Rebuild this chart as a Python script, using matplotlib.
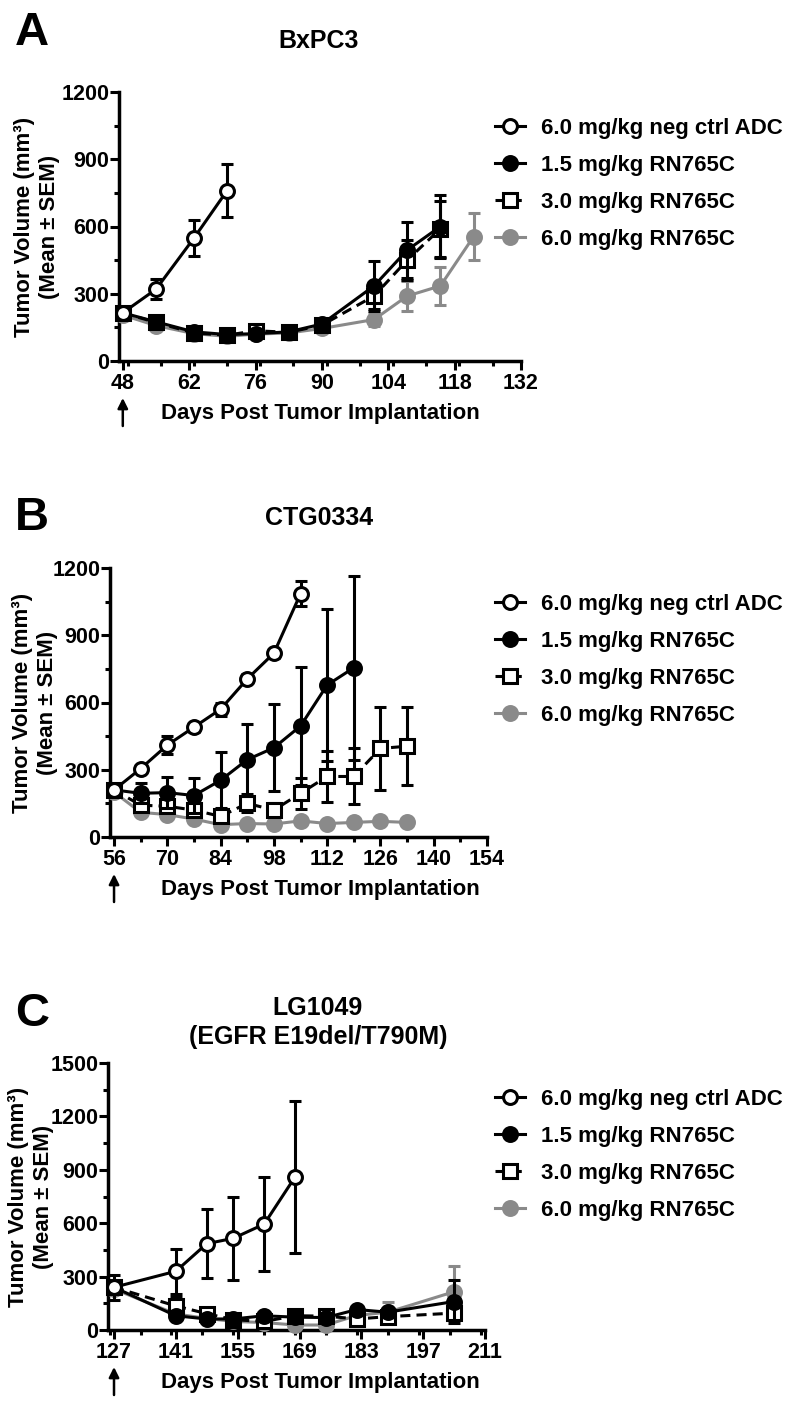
import numpy as np
import matplotlib
matplotlib.use("Agg")
import matplotlib.pyplot as plt
from matplotlib.ticker import MultipleLocator

plt.rcParams['font.family'] = ['Liberation Sans', 'DejaVu Sans']
plt.rcParams['font.weight'] = 'bold'
plt.rcParams['axes.labelweight'] = 'bold'

W, H = 795, 1407

labels = ["6.0 mg/kg neg ctrl ADC", "1.5 mg/kg RN765C",
          "3.0 mg/kg RN765C", "6.0 mg/kg RN765C"]

# ---- Panel A: BxPC3 ----
daysA_ctrl = [48, 55, 63, 70]
ctrlA = [215, 320, 548, 760]
ctrlA_sem = [20, 45, 80, 118]
daysA = [48, 55, 63, 70, 76, 83, 90, 101, 108, 115]
lowA = [215, 175, 130, 118, 122, 130, 165, 335, 495, 600]
lowA_sem = [15, 15, 10, 10, 10, 10, 15, 110, 125, 140]
midA = [215, 172, 125, 115, 135, 128, 160, 290, 450, 590]
midA_sem = [15, 15, 10, 10, 10, 12, 15, 60, 90, 125]
daysA_hi = [48, 55, 63, 70, 76, 83, 90, 101, 108, 115, 122]
hiA = [205, 158, 122, 110, 120, 125, 145, 185, 290, 335, 555]
hiA_sem = [15, 15, 10, 10, 10, 10, 10, 28, 65, 85, 105]

# ---- Panel B: CTG0334 ----
daysB = [56, 63, 70, 77, 84, 91, 98, 105, 112, 119, 126, 133]
ctrlB = [210, 305, 410, 490, 570, 705, 820, 1085]
ctrlB_sem = [15, 15, 40, 20, 30, 20, 20, 55]
lowB = [210, 195, 198, 185, 253, 345, 398, 495, 678, 755]
lowB_sem = [15, 45, 70, 80, 125, 160, 195, 265, 340, 410]
midB = [210, 142, 137, 120, 92, 150, 120, 195, 270, 270, 395, 405]
midB_sem = [15, 20, 15, 15, 10, 40, 30, 70, 115, 125, 185, 175]
hiB = [200, 110, 100, 80, 55, 60, 58, 72, 60, 65, 70, 65]
hiB_sem = [10, 10, 10, 8, 5, 5, 5, 8, 5, 5, 5, 5]

# ---- Panel C: LG1049 ----
daysC_ctrl = [127, 141, 148, 154, 161, 168]
ctrlC = [240, 330, 485, 515, 595, 860]
ctrlC_sem = [30, 125, 195, 235, 265, 425]
daysC = [127, 141, 148, 154, 161, 168, 175, 182, 189, 204]
lowC = [240, 80, 62, 62, 80, 72, 70, 115, 100, 160]
lowC_sem = [30, 15, 8, 8, 8, 8, 8, 10, 15, 120]
midC = [240, 135, 92, 58, 48, 80, 78, 62, 75, 95]
midC_sem = [70, 50, 15, 8, 8, 8, 8, 10, 20, 40]
hiC = [230, 90, 65, 48, 42, 28, 28, 82, 100, 215]
hiC_sem = [25, 15, 8, 8, 8, 8, 8, 10, 55, 145]

GRAY = '#8a8a8a'
LW = 2.2
FS = 16


def fx(px):
    return px / W


def fy(py):
    return 1 - py / H


def make_axes(fig, left, right, top, bottom):
    return fig.add_axes([fx(left), fy(bottom), (right - left) / W, (bottom - top) / H])


def series(ax, x, y, e, color, marker, mfc, ls, z):
    c = ax.errorbar(x, y, yerr=e, color=color, ecolor=color, marker=marker, ms=10,
                    mfc=mfc, mec=color, mew=LW, lw=LW, ls=ls, elinewidth=LW,
                    capsize=4.5, capthick=LW, zorder=z, clip_on=False)
    for art in c.lines[1] + c.lines[2]:
        art.set_clip_on(False)
    return c[0]


def panel(ax, data, xlim, xmajor, ymax, first_day, top_px, bottom_px, ylab_x):
    (dc, c, ce), (d, lo, loe), (dm, mi, mie), (dh, hi, hie) = data
    h4 = series(ax, dh, hi, hie, GRAY, 'o', GRAY, '-', 3)
    h3 = series(ax, dm, mi, mie, 'black', 's', 'white', (0, (3.3, 2)), 4)
    h2 = series(ax, d, lo, loe, 'black', 'o', 'black', '-', 5)
    h1 = series(ax, dc, c, ce, 'black', 'o', 'white', '-', 6)
    ax.set_xlim(*xlim)
    ax.set_ylim(0, ymax)
    ax.set_xticks(xmajor)
    ax.xaxis.set_minor_locator(MultipleLocator(7))
    ax.yaxis.set_major_locator(MultipleLocator(300))
    ax.yaxis.set_minor_locator(MultipleLocator(150))
    for s in ['top', 'right']:
        ax.spines[s].set_visible(False)
    for s in ['left', 'bottom']:
        ax.spines[s].set_linewidth(2.5)
    ax.tick_params(axis='both', which='major', length=6.5, width=2.2, labelsize=15.5)
    ax.tick_params(axis='both', which='minor', length=3.6, width=2.2)
    ax.tick_params(axis='x', which='major', pad=2)
    ax.tick_params(axis='y', which='major', pad=0.5)
    hgt = bottom_px - top_px
    ax.annotate('', xy=(first_day, -37 / hgt), xytext=(first_day, -65 / hgt),
                xycoords=('data', 'axes fraction'),
                arrowprops=dict(arrowstyle='-|>', color='black', lw=1.8,
                                mutation_scale=15, shrinkA=0, shrinkB=0))
    fig.text(fx(320), fy(bottom_px + 58), 'Days Post Tumor Implantation',
             ha='center', va='baseline', fontsize=FS)
    fig.text(fx(ylab_x), fy((top_px + bottom_px) / 2), 'Tumor Volume (mm³)\n(Mean ± SEM)',
             rotation=90, ha='center', va='center', multialignment='center',
             fontsize=FS, linespacing=1.3)
    ax.legend([h1, h2, h3, h4], labels, loc='upper left',
              bbox_to_anchor=(fx(495), fy(top_px + 26)), bbox_transform=fig.transFigure,
              frameon=False, fontsize=FS, borderpad=0, borderaxespad=0,
              handlelength=1.35, handletextpad=0.7, labelspacing=0.72, numpoints=1)


fig = plt.figure(figsize=(W / 100, H / 100), dpi=100)

axA = make_axes(fig, 119, 521, 92, 361)
panel(axA, [(daysA_ctrl, ctrlA, ctrlA_sem), (daysA, lowA, lowA_sem),
            (daysA, midA, midA_sem), (daysA_hi, hiA, hiA_sem)],
      (47.2, 132), np.arange(48, 133, 14), 1200, 48, 92, 361, 37)

axB = make_axes(fig, 110, 487, 568, 837)
panel(axB, [(daysB[:8], ctrlB, ctrlB_sem), (daysB[:10], lowB, lowB_sem),
            (daysB, midB, midB_sem), (daysB, hiB, hiB_sem)],
      (54.94, 154), np.arange(56, 155, 14), 1200, 56, 568, 837, 35)

axC = make_axes(fig, 108, 485, 1063, 1330)
panel(axC, [(daysC_ctrl, ctrlC, ctrlC_sem), (daysC, lowC, lowC_sem),
            (daysC, midC, midC_sem), (daysC, hiC, hiC_sem)],
      (125.64, 211), np.arange(127, 212, 14), 1500, 127, 1063, 1330, 31)

# titles and panel letters
fig.text(fx(319), fy(48), 'BxPC3', ha='center', va='baseline', fontsize=18)
fig.text(fx(319), fy(525), 'CTG0334', ha='center', va='baseline', fontsize=18)
fig.text(fx(318), fy(1015), 'LG1049', ha='center', va='baseline', fontsize=18)
fig.text(fx(318), fy(1044), '(EGFR E19del/T790M)', ha='center', va='baseline', fontsize=18)
fig.text(fx(15), fy(45), 'A', ha='left', va='baseline', fontsize=34)
fig.text(fx(15), fy(530), 'B', ha='left', va='baseline', fontsize=34)
fig.text(fx(15), fy(1026), 'C', ha='left', va='baseline', fontsize=34)

fig.savefig('out.png', dpi=100)
